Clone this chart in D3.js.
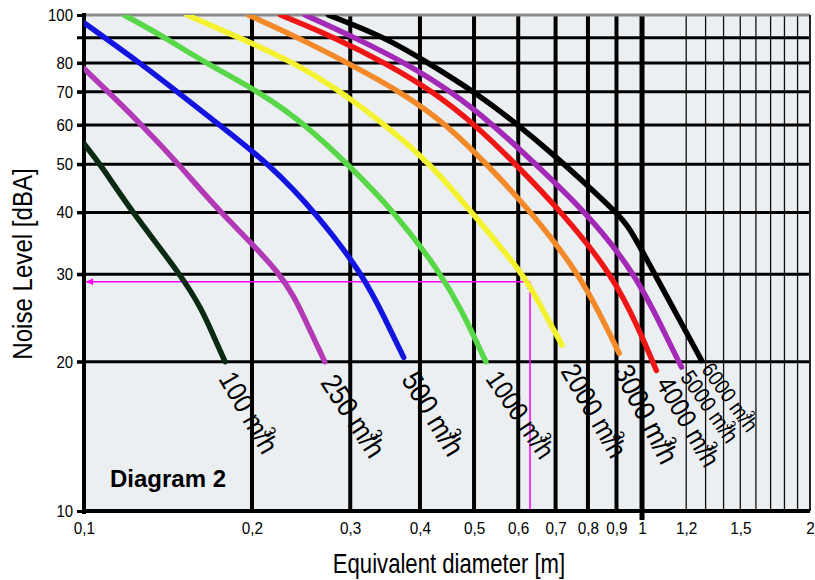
<!DOCTYPE html>
<html>
<head>
<meta charset="utf-8">
<script src="https://cdn.jsdelivr.net/npm/d3@7/dist/d3.min.js"></script>
<style>
  body { margin: 0; background: #fff; }
  text { font-family: "Liberation Sans", Arial, sans-serif; }
</style>
</head>
<body>
<script>
// flow rates [m3/h] and their curves: [equivalent diameter m, noise level dBA]
const flows = ["100", "250", "500", "1000", "2000", "3000", "4000", "5000", "6000"]
const c100 = [[0.1, 55], [0.107, 50], [0.122, 40], [0.149, 30], [0.163, 25.4], [0.171, 22.4], [0.179, 20]]
const c250 = [[0.1, 78], [0.1105, 70], [0.127, 60], [0.148, 50], [0.175, 40], [0.228, 30], [0.249, 24.3], [0.270, 20]]
const c500 = [[0.1, 96.4], [0.109, 90], [0.126, 80], [0.147, 70], [0.175, 60], [0.215, 50], [0.260, 40], [0.316, 30], [0.347, 24.3], [0.374, 20.4]]
const c1000 = [[0.118, 100], [0.140, 90], [0.165, 80], [0.2065, 70], [0.250, 60], [0.297, 50], [0.361, 40], [0.437, 30], [0.475, 25.4], [0.525, 20]]
const c2000 = [[0.153, 100], [0.190, 90], [0.239, 80], [0.289, 70], [0.347, 60], [0.419, 50], [0.495, 40], [0.614, 30], [0.6535, 26.3], [0.719, 21.6]]
const c3000 = [[0.197, 100], [0.242, 90], [0.297, 80], [0.370, 70], [0.448, 60], [0.527, 50], [0.635, 40], [0.771, 30], [0.838, 25.1], [0.910, 20.8]]
const c4000 = [[0.225, 100], [0.282, 90], [0.347, 80], [0.423, 70], [0.503, 60], [0.594, 50], [0.719, 40], [0.884, 30], [0.989, 23.2], [1.061, 19.2]]
const c5000 = [[0.249, 100], [0.306, 90], [0.377, 80], [0.456, 70], [0.542, 60], [0.645, 50], [0.794, 40], [0.977, 30], [1.120, 21.8], [1.177, 19.5]]
const c6000 = [[0.274, 100], [0.348, 90], [0.414, 80], [0.501, 70], [0.594, 60.6], [0.701, 51.8], [0.804, 45], [0.899, 40], [0.949, 37.3], [1.01, 32.8], [1.167, 24.3], [1.279, 20.1]]
const curves = [c100, c250, c500, c1000, c2000, c3000, c4000, c5000, c6000]

// axes
const xTicks = [0.1, 0.2, 0.3, 0.4, 0.5, 0.6, 0.7, 0.8, 0.9, 1, 1.2, 1.5, 2]
const xGridMajor = [0.2, 0.3, 0.4, 0.5, 0.6, 0.7, 0.8, 0.9]
const xGridMinor = [1.2, 1.3, 1.4, 1.5, 1.6, 1.7, 1.8, 1.9]
const yTicks = [10, 20, 30, 40, 50, 60, 70, 80, 100]
const yGrid = [20, 30, 40, 50, 60, 70, 80, 90]

// example reading: diameter / noise level
const readout = [0.63, 29]

// styles
const colors = ["#0b2a12", "#b23ab4", "#1414e0", "#58d848", "#f4f22e", "#f28a2a", "#ef1616", "#a32ab6", "#000000"]
const labelSize = [28, 29, 29, 27, 28, 29, 27, 22.5, 21.5]
const labelAngle = [60, 57, 59, 56, 60, 63, 60, 55, 54]
const labelShift = [[-7, 17], [-5, 21], [-3, 22], [-1, 17], [-2, 26], [-6, 18], [-1, 13], [-2, 10], [-1, 9]]
const narrow = 0.88

const W = 815, H = 580
const svg = d3.select("body").append("svg").attr("width", W).attr("height", H)

const x = d3.scaleLog().domain([0.1, 2]).range([84, 810])
const y = d3.scaleLog().domain([10, 100]).range([511, 15])
const [x0, x1] = x.range(), [y0, y1] = y.range()

const defs = svg.append("defs")
defs.append("clipPath").attr("id", "plot")
  .append("rect").attr("x", x0).attr("y", y1).attr("width", x1 - x0).attr("height", y0 - y1)

// background
svg.append("rect").attr("x", x0).attr("y", y1).attr("width", x1 - x0).attr("height", y0 - y1).attr("fill", "#ebeff2")

// grid
svg.selectAll(".hgrid").data(yGrid).join("line").attr("class", "hgrid")
  .attr("x1", x0 - 7).attr("x2", x1).attr("y1", d => y(d)).attr("y2", d => y(d))
  .attr("stroke", "#000").attr("stroke-width", 3)
svg.selectAll(".vgrid").data(xGridMajor).join("line").attr("class", "vgrid")
  .attr("x1", d => x(d)).attr("x2", d => x(d)).attr("y1", y1).attr("y2", y0)
  .attr("stroke", "#000").attr("stroke-width", 4)
svg.selectAll(".vminor").data(xGridMinor).join("line").attr("class", "vminor")
  .attr("x1", d => x(d)).attr("x2", d => x(d)).attr("y1", y1).attr("y2", y0)
  .attr("stroke", "#111").attr("stroke-width", 1.3)
svg.append("line").attr("x1", x(1)).attr("x2", x(1)).attr("y1", y1).attr("y2", y0 + 9)
  .attr("stroke", "#000").attr("stroke-width", 5)

// frame
svg.append("line").attr("x1", x0).attr("x2", x1).attr("y1", y1).attr("y2", y1).attr("stroke", "#8a8a8a").attr("stroke-width", 3)
svg.append("line").attr("x1", x1).attr("x2", x1).attr("y1", y1).attr("y2", y0).attr("stroke", "#222").attr("stroke-width", 2)

// axes
const yAxis = svg.append("g").attr("transform", `translate(${x0},0)`)
  .call(d3.axisLeft(y).tickValues(yTicks).tickFormat(d3.format("d")).tickSize(7).tickPadding(4))
yAxis.select(".domain").attr("stroke", "#000").attr("stroke-width", 4).attr("d", `M0,${y1 - 2}V${y0 + 3}`)
yAxis.selectAll(".tick line").attr("stroke-width", 3)
yAxis.selectAll(".tick text").attr("font-size", 17).attr("fill", "#000")
  .attr("x", -11 / 0.88).attr("transform", "scale(0.88,1)")
yAxis.attr("font-family", null)

const fmt = d => String(d).replace(".", ",")
const xAxis = svg.append("g").attr("transform", `translate(0,${y0})`)
  .call(d3.axisBottom(x).tickValues(xTicks).tickFormat(fmt).tickSize(0).tickPadding(11))
xAxis.select(".domain").attr("stroke", "#000").attr("stroke-width", 4).attr("d", `M${x0 - 2},0H${x1}`)
xAxis.selectAll(".tick text").attr("font-size", 17).attr("fill", "#000").attr("transform", "scale(0.9,1)")
xAxis.attr("font-family", null)

// readout lines
defs.append("marker").attr("id", "arrow").attr("viewBox", "0 0 10 10").attr("refX", 10).attr("refY", 5)
  .attr("markerWidth", 7).attr("markerHeight", 7).attr("markerUnits", "userSpaceOnUse").attr("orient", "auto")
  .append("path").attr("d", "M0,0L10,5L0,10z").attr("fill", "#ff00ff")
svg.append("line").attr("x1", x(readout[0])).attr("x2", x0 + 2).attr("y1", y(readout[1])).attr("y2", y(readout[1]))
  .attr("stroke", "#ff00ff").attr("stroke-width", 1.5).attr("marker-end", "url(#arrow)")
svg.append("line").attr("x1", x(readout[0])).attr("x2", x(readout[0])).attr("y1", y0 - 2).attr("y2", y(readout[1]))
  .attr("stroke", "#ff00ff").attr("stroke-width", 1.5).attr("marker-end", "url(#arrow)")

// curves
const line = d3.line().x(d => x(d[0])).y(d => y(d[1])).curve(d3.curveBasis)
svg.append("g").attr("clip-path", "url(#plot)")
  .selectAll("path").data(curves).join("path")
  .attr("d", line).attr("fill", "none")
  .attr("stroke", (d, i) => colors[i]).attr("stroke-width", 5.5)
  .attr("stroke-linecap", "round").attr("stroke-linejoin", "round")

// curve labels, hung from each curve's end
const labels = svg.selectAll(".flow").data(curves).join("text").attr("class", "flow")
  .attr("transform", (d, i) => {
    const e = d[d.length - 1]
    return `translate(${x(e[0]) + labelShift[i][0]},${y(e[1]) + labelShift[i][1]}) rotate(${labelAngle[i]}) scale(${narrow},1)`
  })
  .attr("font-size", (d, i) => labelSize[i]).attr("fill", "#000")
labels.append("tspan").text((d, i) => flows[i] + " m")
labels.append("tspan").text("3").attr("font-size", (d, i) => labelSize[i] * 0.6)
  .attr("dx", (d, i) => -labelSize[i] * 0.02).attr("dy", (d, i) => -labelSize[i] * 0.45)
labels.append("tspan").text("/h")
  .attr("dx", (d, i) => -labelSize[i] * 0.31).attr("dy", (d, i) => labelSize[i] * 0.45)

// titles
svg.append("text").attr("transform", `translate(32,264) rotate(-90) scale(0.86,1)`)
  .attr("text-anchor", "middle").attr("font-size", 28).text("Noise Level [dBA]")
svg.append("text").attr("transform", `translate(449,573) scale(0.82,1)`)
  .attr("text-anchor", "middle").attr("font-size", 27).text("Equivalent diameter [m]")
svg.append("text").attr("x", 110).attr("y", 487).attr("font-size", 24).attr("font-weight", "bold").text("Diagram 2")
</script>
</body>
</html>
